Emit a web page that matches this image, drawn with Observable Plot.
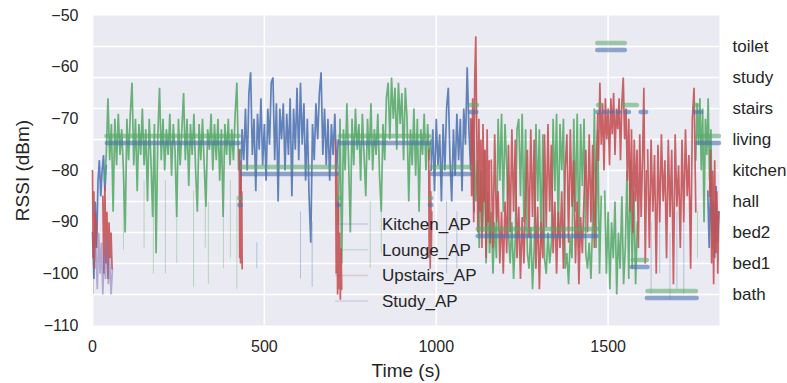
<!DOCTYPE html>
<html><head><meta charset="utf-8">
<script src="https://cdn.jsdelivr.net/npm/d3@7"></script>
<script src="https://cdn.jsdelivr.net/npm/@observablehq/plot@0.6"></script>
<style>body{margin:0;background:#fff} #chart{width:787px;height:383px}</style>
</head><body><div id="chart"></div>
<script>
// ---- categories / ticks ----
const apNames = ["Kitchen_AP", "Lounge_AP", "Upstairs_AP", "Study_AP"];
const apColors = ["#4C72B0", "#55A868", "#C44E52", "#8172B2"];
const roomNames = ["bath", "bed1", "bed2", "hall", "kitchen", "living", "stairs", "study", "toilet"];
const roomValues = [-104, -98, -92, -86, -80, -74, -68, -62, -56];
const xTicks = [0, 500, 1000, 1500];
const yTicks = [-110, -100, -90, -80, -70, -60, -50];

// ---- RSSI series (segments: start time, sample step, values) ----
const kitchenSegs = [
  {t0: 0, dt: 4, v: [-92,-101,-86,-95,-82,-78,-85,-80,-77,-84,-79]},
  {t0: 430, dt: 5, v: [-86,-72,-78,-68,-80,-65,-61,-77,-70,-84,
    -69,-76,-66,-79,-71,-82,-68,-75,-63,-62,
    -78,-67,-86,-68,-74,-67,-80,-69,-77,-66,
    -85,-68,-76,-64,-78,-63,-75,-67,-82,-70,
    -85,-94,-71,-78,-67,-74,-65,-61,-77,-68,
    -79,-70,-82,-71,-77,-69,-80,-74]},
  {t0: 985, dt: 5, v: [-80,-72,-84,-70,-79,-73,-86,-71,-80,-68,
    -64,-78,-86,-72,-81,-69,-78,-70,-84,-68,
    -75,-60,-72,-80,-70,-88]},
  {t0: 1790, dt: 4, v: [-84,-95,-82,-92,-86,-97,-83,-94,-88]}
];
const loungeSegs = [
  {t0: 35, dt: 5, v: [-82,-77,-66,-78,-71,-88,-70,-79,-69,-77,
    -72,-80,-92,-70,-78,-69,-63,-79,-70,-84,
    -71,-77,-68,-79,-72,-86,-70,-78,-89,-71,
    -96,-73,-64,-78,-70,-80,-72,-77,-69,-81,
    -71,-76,-89,-70,-79,-72,-65,-78,-70,-83,
    -71,-77,-69,-80,-88,-71,-78,-70,-79,-87,
    -72,-76,-69,-80,-71,-78,-70,-82,-72,-89,
    -71,-77,-70,-79,-72,-78,-69,-63,-80,-76]},
  {t0: 715, dt: 5, v: [-90,-70,-98,-72,-80,-67,-78,-92,-70,-79,
    -68,-76,-71,-82,-69,-77,-85,-70,-78,-67,
    -80,-72,-77,-69,-81,-88,-71,-78,-66,-63,
    -74,-62,-70,-64,-76,-63,-71,-65,-78,-64,
    -70,-86,-72,-79,-68,-81,-70,-88,-72,-77,
    -69,-80,-71,-78,-74]},
  {t0: 1110, dt: 5, v: [-74,-86,-78,-95,-80,-92,-76,-98,-84,-96,
    -88,-100,-90,-97,-70,-82,-69,-88,-71,-79,
    -92,-98,-90,-101,-93,-72,-70,-85,-69,-90,
    -72,-96,-99,-91,-103,-95,-71,-86,-72,-94,
    -73,-97,-100,-92,-98,-94,-70,-84,-69,-92,
    -71,-80,-70,-99,-96,-102,-93,-97,-70,-88,
    -69,-95,-71,-83,-70,-96,-99,-94,-101,-90,
    -68,-95,-72,-100,-85]},
  {t0: 1490, dt: 5, v: [-84,-100,-88,-103,-90,-97,-86,-104,-92,-99,
    -85,-102,-95,-80,-101,-78,-99,-84,-102,-90]},
  {t0: 1755, dt: 4, v: [-78,-67,-75,-66,-80,-68,-90,-70,-77,-66,-82,-72,-95]}
];
const upstairsSegs = [
  {t0: 0, dt: 2, v: [-80,-97,-84,-99,-88,-95,-90]},
  {t0: 30, dt: 3, v: [-85,-100,-83,-98,-88,-101,-90,-97,-92,-99]},
  {t0: 427, dt: 1.2, v: [-76,-97,-78,-98,-80,-96,-84,-99]},
  {t0: 707, dt: 2, v: [-74,-100,-80,-104,-86,-103,-92,-105,-95,-103]},
  {t0: 978, dt: 1.5, v: [-76,-97,-80,-99,-84,-96,-88]},
  {t0: 1100, dt: 3, v: [-70,-85,-66,-90,-62,-54,-74,-92,-70,-88,
    -74,-95,-71,-86,-76,-97,-72,-90,-78,-94]},
  {t0: 1160, dt: 5, v: [-78,-95,-73,-90,-84,-98,-88,-100,-86,-96,
    -75,-92,-72,-88,-74,-97,-87,-101,-89,-98,
    -85,-76,-93,-72,-89,-74,-99,-87,-103,-90,
    -97,-73,-91,-71,-88,-75,-96,-86,-100,-88,
    -95,-84,-99,-80,-73,-94,-72,-87,-78,-98,
    -86,-102,-89,-96,-85,-76,-92,-73,-90,-75,
    -95,-80,-69]},
  {t0: 1472, dt: 4, v: [-78,-63,-75,-67,-80,-66,-74,-68,-79,-66,
    -73,-65,-77,-68,-72,-66,-78,-67,-62,-74,
    -68,-82,-70,-88,-72,-92,-74,-86,-76,-95,
    -73,-89,-78,-64,-98,-80]},
  {t0: 1615, dt: 5, v: [-76,-95,-74,-88,-77,-100,-75,-90,-73,-86,
    -78,-97,-74,-89,-76,-102,-73,-87,-79,-95,
    -74,-90,-72,-85,-77,-99,-70,-64,-88]},
  {t0: 1795, dt: 3, v: [-85,-76,-98,-80,-102,-78,-96,-84,-100,-88]}
];
const studySegs = [
  {t0: 10, dt: 4, v: [-95,-103,-92,-100,-94,-104,-96,-101,-93,-102,-97,-104,-99]}
];
// faint isolated strokes: [ap index, time, from, to]
const faintStrokes = [
  [1, 90, -80, -95.5], [1, 150, -82, -95], [1, 177, -85, -100], [1, 212, -82, -100],
  [1, 245, -86, -98], [1, 294, -84, -102.6], [1, 328, -80, -95], [1, 337, -86, -102],
  [1, 381, -86, -99], [1, 401, -82, -97], [1, 420, -85, -103], [1, 808, -86, -99],
  [1, 840, -88, -96], [1, 1760, -88, -97],
  [0, 478, -94, -99], [0, 605, -88, -101], [0, 639, -90, -102.6], [0, 1030, -86, -100],
  [0, 1060, -88, -99], [0, 1625, -90, -104], [0, 1650, -86, -100], [0, 1680, -92, -105],
  [0, 1700, -88, -103], [0, 1720, -90, -104], [0, 1740, -85, -98],
  [3, 3, -96, -104]
];

// ---- room tracks: [room, start, end] ----
const truthRooms = [
  ["living",42,427],["hall",429,433],["kitchen",436,712],["hall",714,718],
  ["living",721,981],["hall",983,987],["kitchen",990,1100],["stairs",1101,1120],
  ["bed2",1122,1468],["toilet",1470,1550],["stairs",1472,1480],["stairs",1545,1585],
  ["bed1",1573,1614],["bath",1616,1757],["stairs",1755,1760],["living",1762,1824]
];
const predRooms = [
  ["living",43,427],["hall",429,433],["kitchen",436,712],["hall",714,718],
  ["living",721,981],["hall",983,987],["kitchen",990,1100],["stairs",1101,1118],
  ["bed2",1122,1468],["toilet",1470,1550],["stairs",1470,1474],["stairs",1490,1494],
  ["stairs",1510,1514],["stairs",1530,1534],["stairs",1552,1562],["stairs",1596,1612],
  ["bed1",1570,1616],["bath",1614,1759],["stairs",1754,1758],["stairs",1768,1772],
  ["living",1762,1824]
];

// ---- build tables ----
const pts = [];
[kitchenSegs, loungeSegs, upstairsSegs, studySegs].forEach((segs, a) => {
  segs.forEach((s, si) => s.v.forEach((v, i) => pts.push({ap: a, seg: a + "_" + si, t: s.t0 + i * s.dt, v})));
});
const roomY = d => roomValues[roomNames.indexOf(d[0])];
const minus = d => d < 0 ? "\u2212" + (-d) : String(d);

const lineMarks = apNames.map((name, a) => Plot.line(pts.filter(d => d.ap === a), {
  x: "t", y: "v", z: "seg", stroke: apColors[a], strokeWidth: 1.7,
  strokeOpacity: a === 3 ? 0.55 : 0.88, strokeLinejoin: "miter", strokeMiterlimit: 2
}));

const chart = Plot.plot({
  width: 787, height: 383,
  marginLeft: 92, marginRight: 68, marginTop: 15, marginBottom: 58,
  style: {fontFamily: "'Liberation Sans', Arial, sans-serif", background: "#ffffff", color: "#262626"},
  x: {domain: [0, 1824]},
  y: {domain: [-110, -50]},
  marks: [
    Plot.frame({fill: "#EAEAF2", stroke: null}),
    Plot.ruleY(roomValues, {stroke: "#ffffff", strokeWidth: 1.6}),
    Plot.ruleX(xTicks, {stroke: "#ffffff", strokeWidth: 1.6}),
    Plot.ruleX(faintStrokes, {x: d => d[1], y1: d => d[2], y2: d => d[3], stroke: d => apColors[d[0]], strokeOpacity: 0.35, strokeWidth: 1}),
    ...lineMarks,
    Plot.ruleY(predRooms, {y: roomY, x1: d => d[1], x2: d => d[2], stroke: "#4C72B0", strokeOpacity: 0.6, strokeWidth: 4.5, strokeLinecap: "round", dy: 3.5}),
    Plot.ruleY(truthRooms, {y: roomY, x1: d => d[1], x2: d => d[2], stroke: "#55A868", strokeOpacity: 0.55, strokeWidth: 4.5, strokeLinecap: "round", dy: -3.5}),
    Plot.axisX({ticks: xTicks, tickSize: 0, tickPadding: 15, fontSize: 16, label: null, tickFormat: d => String(d)}),
    Plot.axisY({ticks: yTicks, tickSize: 0, tickPadding: 14, fontSize: 16, label: null, tickFormat: minus}),
    Plot.axisY({anchor: "right", ticks: roomValues, tickSize: 0, tickPadding: 13, fontSize: 17, label: null,
      tickFormat: d => roomNames[roomValues.indexOf(d)]}),
    Plot.text(["RSSI (dBm)"], {frameAnchor: "left", dx: -70, rotate: -90, fontSize: 19, textAnchor: "middle"}),
    Plot.text(["Time (s)"], {frameAnchor: "bottom", dy: 45, fontSize: 19, lineAnchor: "middle"})
  ]
});
document.getElementById("chart").appendChild(chart);

// ---- legend (inside the axes, no frame) ----
const svg = d3.select(chart);
const lg = svg.append("g").attr("font-family", "'Liberation Sans', Arial, sans-serif")
  .attr("font-size", 17).attr("fill", "#262626").attr("text-anchor", "start");
apNames.forEach((name, i) => {
  const y = 224 + i * 25.7;
  lg.append("line").attr("x1", 335).attr("x2", 368).attr("y1", y).attr("y2", y)
    .attr("stroke", apColors[i]).attr("stroke-opacity", 0.22).attr("stroke-width", 1.5);
  lg.append("text").attr("x", 382).attr("y", y).attr("dy", "0.35em").attr("text-anchor", "start").text(name);
});
</script></body></html>
